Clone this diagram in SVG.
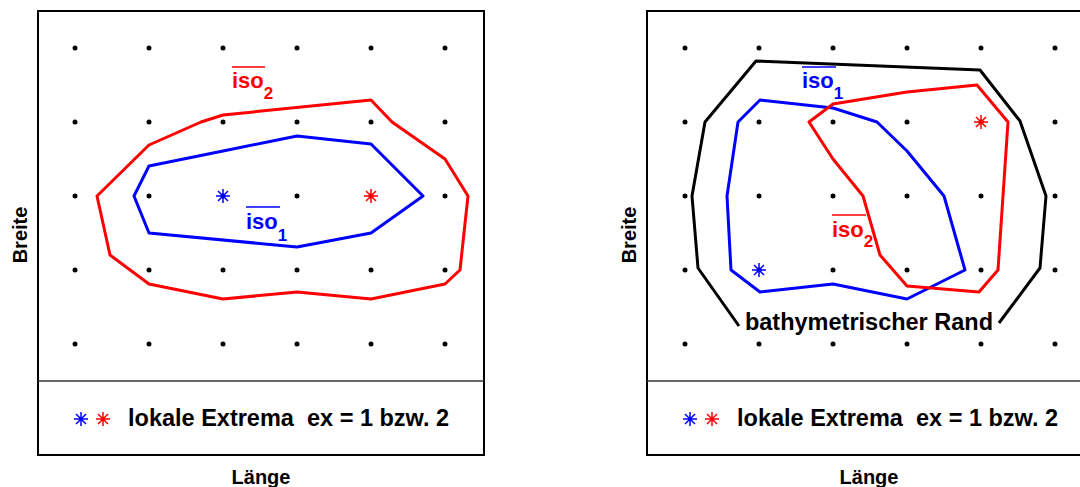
<svg xmlns="http://www.w3.org/2000/svg" width="1080" height="487" viewBox="0 0 1080 487">
  <defs>
    <style>
      .frame { fill: none; stroke: #000; stroke-width: 2; }
      .sep { stroke: #333; stroke-width: 1.3; }
      .dot { fill: #000; }
      .iso1 { fill: none; stroke: #0000ff; stroke-width: 3; stroke-linejoin: round; }
      .iso2 { fill: none; stroke: #ff0000; stroke-width: 3; stroke-linejoin: round; }
      .rand { fill: none; stroke: #000; stroke-width: 3; stroke-linejoin: round; }
      text { font-family: "Liberation Sans", Arial, sans-serif; font-weight: bold; }
      .lbl { font-size: 22px; }
      .sub { font-size: 17px; }
      .axis { font-size: 20px; fill: #000; }
      .leg { font-size: 23.5px; fill: #000; }
      .bl { fill: #0000ff; }
      .rd { fill: #ff0000; }
    </style>
    <!-- eight-armed star marker -->
    <g id="star">
      <path d="M-7,0H7M0,-7V7M-5,-5L5,5M-5,5L5,-5" stroke-width="1.5"/>
    </g>
    <g id="grid">
      <g class="dot">
        <circle cx="0" cy="0" r="2.5"/><circle cx="74" cy="0" r="2.5"/><circle cx="148" cy="0" r="2.5"/><circle cx="222" cy="0" r="2.5"/><circle cx="296" cy="0" r="2.5"/><circle cx="370" cy="0" r="2.5"/>
        <circle cx="0" cy="74" r="2.5"/><circle cx="74" cy="74" r="2.5"/><circle cx="148" cy="74" r="2.5"/><circle cx="222" cy="74" r="2.5"/><circle cx="296" cy="74" r="2.5"/><circle cx="370" cy="74" r="2.5"/>
        <circle cx="0" cy="148" r="2.5"/><circle cx="74" cy="148" r="2.5"/><circle cx="148" cy="148" r="2.5"/><circle cx="222" cy="148" r="2.5"/><circle cx="296" cy="148" r="2.5"/><circle cx="370" cy="148" r="2.5"/>
        <circle cx="0" cy="222" r="2.5"/><circle cx="74" cy="222" r="2.5"/><circle cx="148" cy="222" r="2.5"/><circle cx="222" cy="222" r="2.5"/><circle cx="296" cy="222" r="2.5"/><circle cx="370" cy="222" r="2.5"/>
        <circle cx="0" cy="296" r="2.5"/><circle cx="74" cy="296" r="2.5"/><circle cx="148" cy="296" r="2.5"/><circle cx="222" cy="296" r="2.5"/><circle cx="296" cy="296" r="2.5"/><circle cx="370" cy="296" r="2.5"/>
      </g>
    </g>
  </defs>

  <!-- left panel -->
  <g id="panel-left">
    <rect class="frame" x="38" y="11" width="446" height="444"/>
    <line class="sep" x1="38" y1="381" x2="484" y2="381"/>
    <use href="#grid" x="75" y="48"/>
    <text class="axis" transform="translate(27,235) rotate(-90)" text-anchor="middle">Breite</text>
    <text class="axis" x="261" y="484" text-anchor="middle">Länge</text>
  </g>

  <g id="iso2-left">
    <polygon class="iso2" points="149,145 201,122 223,115 371,100 392,122 445,159 468,196 460,270 445,284 371,299 297,292 223,299 149,284 110,255 97,196"/>
    <text class="lbl rd" x="232" y="88">iso<tspan class="sub" dy="11">2</tspan></text>
    <line x1="232" y1="67" x2="265" y2="67" stroke="#ff0000" stroke-width="1.5"/>
  </g>

  <g id="iso1-left">
    <polygon class="iso1" points="134,196 149,166 223,151 297,136 371,144 423,196 371,233 297,247 149,233"/>
    <text class="lbl bl" x="246" y="229">iso<tspan class="sub" dy="12">1</tspan></text>
    <line x1="246" y1="207" x2="280" y2="207" stroke="#0000ff" stroke-width="1.5"/>
  </g>

  <g id="extrema-left">
    <use href="#star" x="223" y="196" stroke="#0000ff"/>
    <use href="#star" x="371" y="196" stroke="#ff0000"/>
  </g>

  <g id="legend-left">
    <use href="#star" x="81" y="419" stroke="#0000ff"/>
    <use href="#star" x="103" y="419" stroke="#ff0000"/>
    <text class="leg" x="128" y="426" xml:space="preserve">lokale Extrema  ex = 1 bzw. 2</text>
  </g>

  <!-- right panel -->
  <g id="panel-right">
    <rect class="frame" x="647" y="11" width="446" height="444"/>
    <line class="sep" x1="647" y1="381" x2="1093" y2="381"/>
    <use href="#grid" x="685" y="48"/>
    <text class="axis" transform="translate(636,235) rotate(-90)" text-anchor="middle">Breite</text>
    <text class="axis" x="869" y="484" text-anchor="middle">Länge</text>
  </g>

  <g id="rand">
    <polyline class="rand" points="739,326 698,268 692,196 705,122 756,61 980,70 1020,121 1046,196 1040,268 999,323"/>
    <text class="leg" x="869" y="330" text-anchor="middle">bathymetrischer Rand</text>
  </g>

  <g id="iso1-right">
    <polygon class="iso1" points="760,100 833,108 877,122 907,151 944,196 965,270 907,299 833,284 760,292 731,270 727,196 738,122"/>
    <text class="lbl bl" x="802" y="88">iso<tspan class="sub" dy="11">1</tspan></text>
    <line x1="802" y1="67" x2="836" y2="67" stroke="#0000ff" stroke-width="1.5"/>
  </g>

  <g id="iso2-right">
    <polygon class="iso2" points="809,122 833,104 907,92 977,85 1008,122 998,270 979,292 907,286 880,255 863,196 833,159"/>
    <text class="lbl rd" x="832" y="237">iso<tspan class="sub" dy="10">2</tspan></text>
    <line x1="832" y1="215" x2="866" y2="215" stroke="#ff0000" stroke-width="1.5"/>
  </g>

  <g id="extrema-right">
    <use href="#star" x="759" y="270" stroke="#0000ff"/>
    <use href="#star" x="981" y="122" stroke="#ff0000"/>
  </g>

  <g id="legend-right">
    <use href="#star" x="690" y="419" stroke="#0000ff"/>
    <use href="#star" x="712" y="419" stroke="#ff0000"/>
    <text class="leg" x="737" y="426" xml:space="preserve">lokale Extrema  ex = 1 bzw. 2</text>
  </g>
</svg>
